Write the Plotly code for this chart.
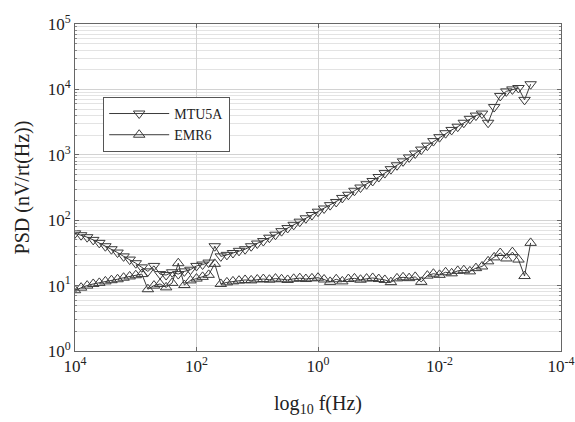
import plotly.graph_objects as go

# log10 of the analysis frequencies (Hz), high to low
LOG_F = [
    4.0, 3.9, 3.8, 3.7, 3.6, 3.5, 3.4, 3.3, 3.2, 3.1,
    3.0, 2.9, 2.8, 2.7, 2.6, 2.5, 2.4, 2.3, 2.2, 2.1,
    2.0, 1.9, 1.8, 1.7, 1.6, 1.5, 1.4, 1.3, 1.2, 1.1,
    1.0, 0.9, 0.8, 0.7, 0.6, 0.5, 0.4, 0.3, 0.2, 0.1,
    0.0, -0.1, -0.2, -0.3, -0.4, -0.5, -0.6, -0.7, -0.8, -0.9,
    -1.0, -1.1, -1.2, -1.3, -1.4, -1.5, -1.6, -1.7, -1.8, -1.9,
    -2.0, -2.1, -2.2, -2.3, -2.4, -2.5, -2.6, -2.7, -2.8, -2.9,
    -3.0, -3.1, -3.2, -3.3, -3.4, -3.5,
]

# noise spectral density, nV/rt(Hz)
MTU5A = [
    63, 59, 55, 50, 45, 40, 36, 32, 28, 25,
    22, 19, 16.5, 20, 15, 14.5, 16, 15, 16.5, 17.5,
    20, 21, 22.5, 40, 28, 29.5, 31.5, 34, 36, 40,
    44, 48, 54, 60, 68, 76, 85, 95, 107, 120,
    135, 151, 170, 190, 219, 245, 282, 316, 355, 398,
    457, 525, 603, 692, 794, 912, 1047, 1202, 1380, 1620,
    1860, 2140, 2400, 2690, 3090, 3550, 3980, 4270, 3090, 5370,
    7940, 9330, 10000, 10500, 6920, 12000,
]

EMR6 = [
    8.5, 9.3, 10.0, 10.6, 11.0, 11.6, 12.1, 12.5, 13.2, 13.8,
    14.4, 15.0, 8.8, 10.0, 10.6, 9.4, 11.0, 22.0, 10.2, 12.0,
    12.8, 13.6, 14.6, 21.5, 10.6, 11.2, 11.6, 11.9, 12.2, 12.0,
    12.4, 12.6, 12.3, 12.8, 12.5, 12.2, 12.7, 13.0, 12.6, 12.9,
    13.2, 12.4, 11.4, 12.5, 11.6, 12.6, 12.9, 12.3, 12.8, 13.1,
    12.6, 12.2, 11.3, 12.9, 13.4, 13.0, 13.6, 11.4, 14.2, 15.2,
    14.6, 16.0, 15.4, 16.8, 17.2, 16.5, 18.5, 19.6, 23.5, 27.0,
    31.5, 26.0, 32.5, 25.0, 14.0, 45.0,
]

X_TICKS = [1e4, 1e2, 1e0, 1e-2, 1e-4]
X_LABELS = ["10<sup>4</sup>", "10<sup>2</sup>", "10<sup>0</sup>", "10<sup>-2</sup>", "10<sup>-4</sup>"]
Y_TICKS = [1e0, 1e1, 1e2, 1e3, 1e4, 1e5]
Y_LABELS = ["10<sup>0</sup>", "10<sup>1</sup>", "10<sup>2</sup>", "10<sup>3</sup>", "10<sup>4</sup>", "10<sup>5</sup>"]

assert len(LOG_F) == len(MTU5A) == len(EMR6)

freq = [10 ** v for v in LOG_F]

FONT = "Liberation Serif"
INK = "#3a3a3a"
TXT = "#222222"

fig = go.Figure()
fig.add_trace(go.Scatter(
    x=freq, y=MTU5A, name="MTU5A", mode="lines+markers",
    line=dict(color=INK, width=1),
    marker=dict(symbol="triangle-down-open", size=10, color=INK,
                line=dict(width=1, color=INK)),
))
fig.add_trace(go.Scatter(
    x=freq, y=EMR6, name="EMR6", mode="lines+markers",
    line=dict(color=INK, width=1),
    marker=dict(symbol="triangle-up-open", size=10, color=INK,
                line=dict(width=1, color=INK)),
))

axis_common = dict(
    type="log",
    showline=True, linecolor="#666666", linewidth=1, mirror="ticks",
    ticks="inside", ticklen=4, tickcolor="#666666",
    gridcolor="#d2d2d2", gridwidth=1,
    tickmode="array",
    tickfont=dict(family=FONT, size=17, color=TXT),
    zeroline=False,
    automargin=False,
)

fig.update_xaxes(
    **axis_common,
    range=[4, -4], tickvals=X_TICKS, ticktext=X_LABELS,
    title=dict(text="log<sub>10</sub> f(Hz)", font=dict(family=FONT, size=20, color=TXT),
               standoff=20),
)
fig.update_yaxes(
    **axis_common,
    range=[0, 5], tickvals=Y_TICKS, ticktext=Y_LABELS,
    minor=dict(dtick="D1", showgrid=True, gridcolor="#e3e3e3",
               ticks="inside", ticklen=2, tickcolor="#888888"),
    title=dict(text="PSD (nV/rt(Hz))", font=dict(family=FONT, size=20, color=TXT),
               standoff=12),
)

fig.update_layout(
    width=575, height=422,
    margin=dict(l=75, r=14, t=24, b=71),
    paper_bgcolor="white", plot_bgcolor="white",
    font=dict(family=FONT, color=TXT),
    legend=dict(
        x=0.058, y=0.777, xanchor="left", yanchor="top",
        bgcolor="white", bordercolor="#555555", borderwidth=1,
        font=dict(family=FONT, size=14, color=TXT),
        itemwidth=60, tracegroupgap=2,
    ),
    showlegend=True,
)

fig.write_html("out.html")
